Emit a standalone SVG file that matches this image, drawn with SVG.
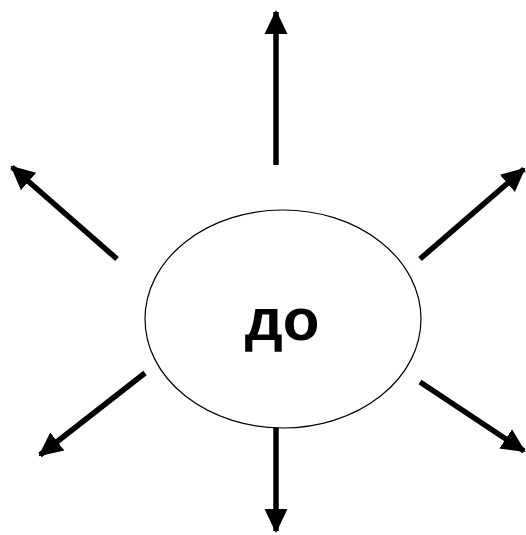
<svg xmlns="http://www.w3.org/2000/svg" width="526" height="535" viewBox="0 0 526 535">
<style>
.c{stroke:#000;stroke-width:5.5;fill:none;marker-end:url(#ah)}
.n{fill:#fff;stroke:#000;stroke-width:1.2}
.t{font-family:"Liberation Sans",Arial,sans-serif;font-weight:bold;font-size:60px;fill:#000}
</style>
<defs>
<marker id="ah" markerUnits="userSpaceOnUse" markerWidth="26" markerHeight="26" viewBox="0 0 26 26" refX="22" refY="13" orient="auto">
<path d="M0,1.5 L24,13 L0,24.5 Z" fill="#000"/>
</marker>
</defs>
<rect width="526" height="535" fill="#fff"/>
<g id="connectors">
<line class="c" x1="276" y1="165" x2="276" y2="12"/>
<line class="c" x1="117" y1="259" x2="12" y2="167"/>
<line class="c" x1="420" y1="259" x2="524" y2="169"/>
<line class="c" x1="145" y1="373" x2="40" y2="455"/>
<line class="c" x1="420" y1="382" x2="524" y2="451"/>
<line class="c" x1="276" y1="428" x2="276" y2="531"/>
</g>
<g id="node-do">
<ellipse class="n" cx="283" cy="319" rx="138" ry="109"/>
<text class="t" x="282" y="340" text-anchor="middle">до</text>
</g>
</svg>
